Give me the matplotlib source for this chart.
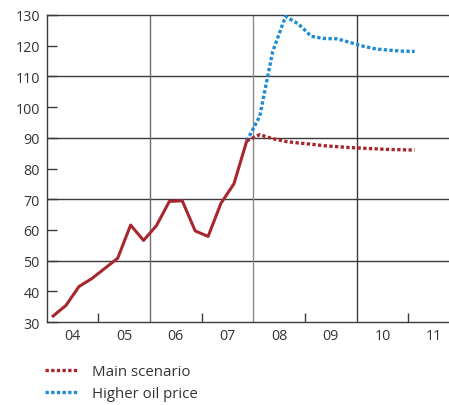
import numpy as np
import matplotlib
matplotlib.use('Agg')
import matplotlib.pyplot as plt

plt.rcParams['font.family'] = ['Open Sans', 'DejaVu Sans']

# quarterly data, 2004Q1 - 2011Q1
hist_main = [32.0, 35.5, 41.6, 44.2, 47.5, 50.8, 61.6, 56.6,
             61.4, 69.3, 69.5, 59.7, 57.9, 68.7, 75.0, 89.0]
fc_main = [91.0, 89.7, 88.8, 88.3, 87.9, 87.4, 87.1, 86.8,
           86.6, 86.4, 86.2, 86.1, 86.0]
fc_high = [97.0, 118.0, 129.5, 127.0, 123.0, 122.3, 122.2, 121.0,
           119.8, 118.9, 118.5, 118.2, 118.1]
year_labels = ['04', '05', '06', '07', '08', '09', '10', '11']

red = '#a8272f'
blue = '#1e8bd3'

x_hist = 2004 + 0.125 + 0.25 * np.arange(len(hist_main))
x_fc = 2004 + 0.125 + 0.25 * np.arange(len(hist_main) - 1, len(hist_main) + len(fc_main))

fig = plt.figure(figsize=(4.49, 4.06), dpi=100)
ax = fig.add_axes([0.104, 0.204, 0.896, 0.757])

# grid
for yv in [50, 70, 90, 110]:
    ax.axhline(yv, color='#3a3a3a', lw=1.0, zorder=1)
for xv, c in [(2006, '#6e6e6e'), (2008, '#8a8a8a'), (2010, '#3a3a3a')]:
    ax.axvline(xv, color=c, lw=1.0, zorder=1)

ax.plot(x_hist, hist_main, color=red, lw=2.2, zorder=3)
ax.plot(x_fc, [hist_main[-1]] + fc_high, color=blue, lw=2.4,
        linestyle=(0, (1, 0.7)), zorder=3, label='Higher oil price')
ax.plot(x_fc, [hist_main[-1]] + fc_main, color=red, lw=2.4,
        linestyle=(0, (1, 0.7)), zorder=4, label='Main scenario')

ax.set_xlim(2004, 2011.79)
ax.set_ylim(30, 130)

for s in ['left', 'bottom', 'top']:
    ax.spines[s].set_color('#3a3a3a')
    ax.spines[s].set_linewidth(1.0)
ax.spines['right'].set_visible(False)

ax.set_yticks(np.arange(30, 131, 10))
ax.tick_params(axis='y', direction='in', length=7.5, width=1.0, color='#3a3a3a',
               labelsize=10.3, labelcolor='#333333', pad=5)

ax.set_xticks([2005, 2007, 2009, 2011])
ax.set_xticklabels([])
ax.tick_params(axis='x', which='major', direction='in', length=6.5, width=1.0, color='#3a3a3a')
ax.set_xticks(np.arange(2004.5, 2011.6, 1.0), minor=True)
ax.set_xticklabels(year_labels, minor=True)
ax.tick_params(axis='x', which='minor', length=0, labelsize=10.3, labelcolor='#333333', pad=4)

handles, labels = ax.get_legend_handles_labels()
leg = fig.legend(handles[::-1], labels[::-1], loc='upper left', bbox_to_anchor=(0.1, 0.1),
                 frameon=False, fontsize=10.8, handlelength=2.3, handletextpad=0.85,
                 labelspacing=0.45, borderaxespad=0, borderpad=0)
for t in leg.get_texts():
    t.set_color('#333333')

fig.savefig('out.png', dpi=100)
